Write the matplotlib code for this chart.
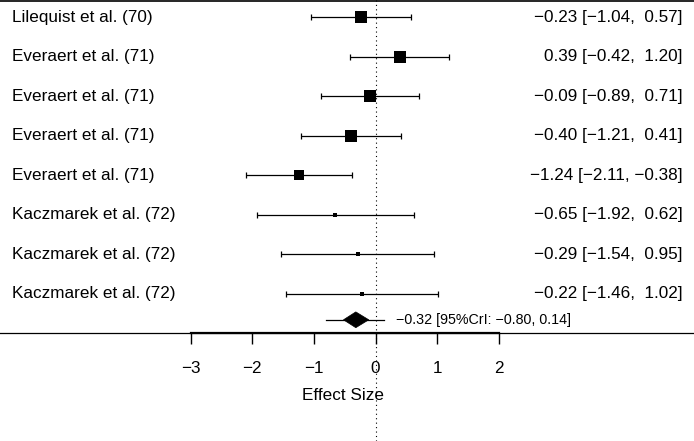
import matplotlib
matplotlib.use("Agg")
import matplotlib.pyplot as plt
from matplotlib.patches import Polygon

plt.rcParams["font.family"] = ["Liberation Sans", "DejaVu Sans"]

# data
STUDIES = [
    "Lilequist et al. (70)",
    "Everaert et al. (71)",
    "Everaert et al. (71)",
    "Everaert et al. (71)",
    "Everaert et al. (71)",
    "Kaczmarek et al. (72)",
    "Kaczmarek et al. (72)",
    "Kaczmarek et al. (72)",
]
EST = [-0.23, 0.39, -0.09, -0.40, -1.24, -0.65, -0.29, -0.22]
LO = [-1.04, -0.42, -0.89, -1.21, -2.11, -1.92, -1.54, -1.46]
HI = [0.57, 1.20, 0.71, 0.41, -0.38, 0.62, 0.95, 1.02]
WEIGHT = [11.5, 11.7, 11.7, 11.5, 9.6, 4.0, 4.0, 4.0]   # square side, px

POOLED = -0.32
POOLED_CI = (-0.52, -0.11)      # diamond
POOLED_CRI = (-0.80, 0.14)      # whisker
XTICKS = [-3, -2, -1, 0, 1, 2]

FS = 12.3


def fmt(v):
    return f"{v:.2f}".replace("-", "\u2212")


def fmt_pad(v):
    s = fmt(v)
    return s if v < 0 else " " + s


DPI = 100
fig = plt.figure(figsize=(6.94, 4.41), dpi=DPI)
ax = fig.add_axes([0, 0, 1, 1])
px = 72.0 / DPI  # points per pixel

n = len(STUDIES)
ys = [n - i for i in range(n)]
y_sum = 0.34

# dotted reference line at zero
ax.axvline(0, color="black", lw=0.8, ls=(0, (1, 3)), zorder=1)

# top border and full width axis baseline
ax.axhline(8.42, color="black", lw=1.2)
ax.axhline(0, color="black", lw=0.9)

for y, name, e, lo, hi, w in zip(ys, STUDIES, EST, LO, HI, WEIGHT):
    ax.errorbar([e], [y], xerr=[[e - lo], [hi - e]], fmt="none",
                ecolor="black", elinewidth=0.9, capsize=2.4,
                capthick=0.9, zorder=2)
    ax.plot([e], [y], marker="s", ms=w * px, color="black", mew=0,
            zorder=3)
    ax.text(-5.90, y, name, ha="left", va="center", fontsize=FS)
    ax.text(4.98, y, f"{fmt(e)} [{fmt(lo)}, {fmt_pad(hi)}]",
            ha="right", va="center", fontsize=FS)

# pooled estimate
ax.plot(POOLED_CRI, [y_sum, y_sum], color="black", lw=0.9, zorder=2)
diamond = Polygon([(POOLED_CI[0], y_sum), (POOLED, y_sum + 0.2),
                   (POOLED_CI[1], y_sum), (POOLED, y_sum - 0.2)],
                  closed=True, facecolor="black", edgecolor="black",
                  lw=0.5, zorder=3)
ax.add_patch(diamond)
ax.text(0.33, y_sum,
        f"{fmt(POOLED)} [95%CrI: {fmt(POOLED_CRI[0])}, {fmt(POOLED_CRI[1])}]",
        ha="left", va="center", fontsize=10.3)

# x axis drawn through the bottom spine moved to y = 0
for s in ["top", "right", "left"]:
    ax.spines[s].set_visible(False)
ax.spines["bottom"].set_position(("data", 0))
ax.spines["bottom"].set_bounds(XTICKS[0], XTICKS[-1])
ax.spines["bottom"].set_linewidth(1.6)
ax.set_xticks(XTICKS)
ax.set_xticklabels([fmt(t).replace(".00", "") for t in XTICKS], fontsize=FS)
ax.tick_params(axis="x", direction="out", length=11 * px, width=1.0,
               pad=12)
ax.set_yticks([])
ax.text(-0.53, -1.59, "Effect Size", ha="center", va="center", fontsize=FS)

ax.set_xlim(-6.096, 5.17)
ax.set_ylim(-2.73, 8.44)

fig.savefig("out.png", dpi=DPI, facecolor="white")
